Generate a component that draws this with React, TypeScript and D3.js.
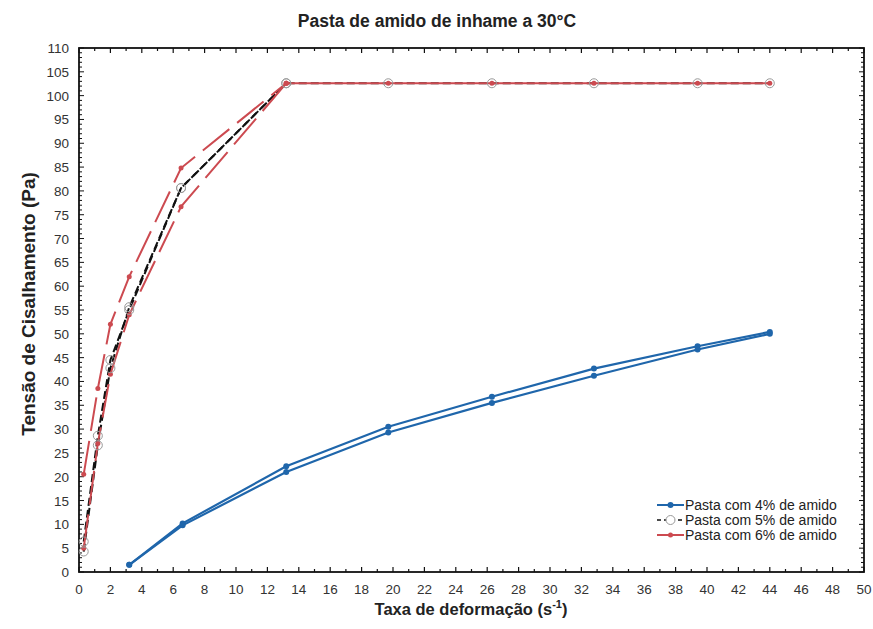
import React from "react";
import * as d3 from "d3";

const W = 873, H = 629;
const xTicks = d3.range(0, 51, 2);
const yTicks = d3.range(0, 111, 5);

// 4% (blue) up and down curves
const blueUpX = [3.2, 6.6, 13.2, 19.7, 26.3, 32.8, 39.4, 44.0];
const blueUpY = [1.5, 10.2, 22.2, 30.5, 36.8, 42.7, 47.4, 50.4];
const blueDownX = [3.2, 6.6, 13.2, 19.7, 26.3, 32.8, 39.4, 44.0];
const blueDownY = [1.5, 9.8, 21.0, 29.3, 35.5, 41.2, 46.7, 50.0];

// 5% (black dashed)
const blackUpX = [0.3, 1.2, 2.0, 3.2, 6.5, 13.2, 19.7, 26.3, 32.8, 39.4, 44.0];
const blackUpY = [4.3, 26.6, 42.8, 55.6, 80.6, 102.6, 102.6, 102.6, 102.6, 102.6, 102.6];
const blackDownX = [0.3, 1.2, 2.0, 3.2, 6.5, 13.2];
const blackDownY = [6.4, 28.6, 44.5, 55.0, 80.6, 102.6];

// 6% (red)
const redUpX = [0.3, 1.2, 2.0, 3.2, 6.5, 13.2];
const redUpY = [20.5, 38.5, 52.0, 62.0, 84.8, 102.6];
const redDownX = [0.3, 1.2, 2.0, 3.2, 6.5, 13.2];
const redDownY = [5.0, 27.0, 41.5, 54.0, 76.7, 102.6];
const redPlateauX = [13.2, 19.7, 26.3, 32.8, 39.4, 44.0];
const redPlateauY = [102.6, 102.6, 102.6, 102.6, 102.6, 102.6];

const legendLabels = ["Pasta com 4% de amido", "Pasta com 5% de amido", "Pasta com 6% de amido"];

const BLUE = "#1f66ab";
const RED = "#cc4a50";

export default function App() {
  const L = 79, R = 864, T = 48, B = 572;
  const x = d3.scaleLinear().domain([0, 50]).range([L, R]);
  const y = d3.scaleLinear().domain([0, 110]).range([B, T]);
  const pts = (xs: number[], ys: number[]) => xs.map((v, i) => [v, ys[i]] as [number, number]);
  const line = d3.line<[number, number]>().x(d => x(d[0])).y(d => y(d[1]));

  const xMinor = d3.range(0, 51, 1);
  const yMinor = d3.range(0, 111, 1);
  const font = "Liberation Sans, Arial, sans-serif";

  return (
    <svg width={W} height={H} style={{ position: "absolute", left: 0, top: 0, background: "#fff" }}>
      <rect width={W} height={H} fill="#fff" />
      <text x={437} y={27} textAnchor="middle" fontFamily={font} fontWeight="bold" fontSize={17.5} fill="#222">
        Pasta de amido de inhame a 30°C
      </text>

      {/* ticks */}
      {xMinor.map(v => {
        const len = v % 2 === 0 ? 5 : 3;
        return (
          <g key={"xm" + v}>
            <line x1={x(v)} x2={x(v)} y1={B} y2={B - len} stroke="#111" strokeWidth={1.2} />
            <line x1={x(v)} x2={x(v)} y1={T} y2={T + len} stroke="#111" strokeWidth={1.2} />
          </g>
        );
      })}
      {yMinor.map(v => {
        const len = v % 5 === 0 ? 5 : 3;
        return (
          <g key={"ym" + v}>
            <line x1={L} x2={L + len} y1={y(v)} y2={y(v)} stroke="#111" strokeWidth={1} />
            <line x1={R} x2={R - len} y1={y(v)} y2={y(v)} stroke="#111" strokeWidth={1} />
          </g>
        );
      })}
      <rect x={L} y={T} width={R - L} height={B - T} fill="none" stroke="#111" strokeWidth={1.8} />

      {xTicks.map(v => (
        <text key={"xt" + v} x={x(v)} y={B + 22} textAnchor="middle" fontFamily={font} fontSize={13.5} fill="#333">
          {v}
        </text>
      ))}
      {yTicks.map(v => (
        <text key={"yt" + v} x={L - 10} y={y(v) + 5} textAnchor="end" fontFamily={font} fontSize={13.5} fill="#333">
          {v}
        </text>
      ))}

      <text x={471} y={615} textAnchor="middle" fontFamily={font} fontWeight="bold" fontSize={16.5} fill="#222">
        Taxa de deformação (s<tspan dy={-7} fontSize={11}>-1</tspan><tspan dy={7}>)</tspan>
      </text>
      <text transform={`translate(35,${304}) rotate(-90)`} textAnchor="middle" fontFamily={font} fontWeight="bold" fontSize={19} fill="#222">
        Tensão de Cisalhamento (Pa)
      </text>

      {/* blue */}
      <path d={line(pts(blueUpX, blueUpY)) || ""} fill="none" stroke={BLUE} strokeWidth={2.2} />
      <path d={line(pts(blueDownX, blueDownY)) || ""} fill="none" stroke={BLUE} strokeWidth={2.2} />
      {pts(blueUpX, blueUpY).concat(pts(blueDownX, blueDownY)).map((p, i) => (
        <circle key={"bp" + i} cx={x(p[0])} cy={y(p[1])} r={3} fill={BLUE} />
      ))}

      {/* black dashed */}
      <path d={line(pts(blackUpX, blackUpY)) || ""} fill="none" stroke="#111" strokeWidth={2} strokeDasharray="8,4" />
      <path d={line(pts(blackDownX, blackDownY)) || ""} fill="none" stroke="#111" strokeWidth={2} strokeDasharray="8,4" />

      {/* red */}
      <path d={line(pts(redUpX, redUpY)) || ""} fill="none" stroke={RED} strokeWidth={2} strokeDasharray="34,10" />
      <path d={line(pts(redDownX, redDownY)) || ""} fill="none" stroke={RED} strokeWidth={2} strokeDasharray="34,10" />
      <path d={line(pts(redPlateauX, redPlateauY)) || ""} fill="none" stroke={RED} strokeWidth={2} />
      {pts(redUpX, redUpY).concat(pts(redDownX, redDownY), pts(redPlateauX, redPlateauY)).map((p, i) => (
        <circle key={"rp" + i} cx={x(p[0])} cy={y(p[1])} r={2.5} fill={RED} />
      ))}

      {/* open circles of 5% */}
      {pts(blackUpX, blackUpY).concat(pts(blackDownX, blackDownY)).map((p, i) => (
        <circle key={"kp" + i} cx={x(p[0])} cy={y(p[1])} r={4.5} fill="none" stroke="#999" strokeWidth={1} />
      ))}

      {/* legend */}
      {legendLabels.map((lab, i) => {
        const ly = 505 + i * 15;
        const lx0 = 657, lx1 = 684;
        return (
          <g key={"lg" + i}>
            {i === 0 && <line x1={lx0} x2={lx1} y1={ly} y2={ly} stroke={BLUE} strokeWidth={2} />}
            {i === 0 && <circle cx={(lx0 + lx1) / 2} cy={ly} r={3} fill={BLUE} />}
            {i === 1 && <line x1={lx0} x2={lx1} y1={ly} y2={ly} stroke="#111" strokeWidth={1.5} strokeDasharray="4,3" />}
            {i === 1 && <circle cx={(lx0 + lx1) / 2} cy={ly} r={4.5} fill="#fff" stroke="#999" />}
            {i === 2 && <line x1={lx0} x2={lx1} y1={ly} y2={ly} stroke={RED} strokeWidth={2} />}
            {i === 2 && <circle cx={(lx0 + lx1) / 2} cy={ly} r={2.5} fill={RED} />}
            <text x={685} y={ly + 5} fontFamily={font} fontSize={14} fill="#222">{lab}</text>
          </g>
        );
      })}
    </svg>
  );
}
